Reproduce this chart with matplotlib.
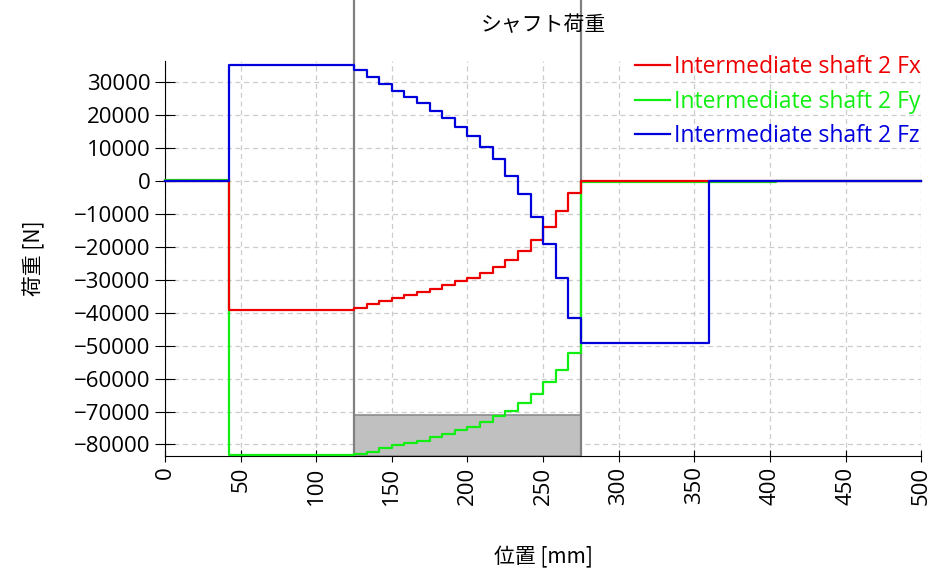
import matplotlib
matplotlib.use("Agg")
import matplotlib.pyplot as plt

plt.rcParams['font.family'] = ['Open Sans', 'Noto Sans CJK JP', 'DejaVu Sans']

# step positions along the shaft [mm]
steps = [125, 133.3, 141.7, 150, 158.3, 166.7, 175, 183.3, 191.7,
         200, 208.3, 216.7, 225, 233.3, 241.7, 250, 258.3, 266.7]

pos_fx = [0, 42] + steps + [275, 500]
fx = [0, -39300,
      -38700, -37500, -36500, -35500, -34700, -33700, -32700, -31700, -30500,
      -29500, -27900, -26100, -24000, -21300, -17900, -14200, -9300, -3700,
      0, 0]

pos_fy = [0, 42] + steps + [275, 404, 500]
fy = [250, -83300,
      -83000, -82300, -81000, -80300, -79500, -78800, -77800, -76700, -75700,
      -74700, -73200, -71500, -69700, -67500, -64700, -61200, -57400, -52400,
      -350, 0, 0]

pos_fz = [0, 42] + steps + [275, 360, 500]
fz = [0, 35000,
      33500, 31500, 29400, 27200, 25400, 23400, 21200, 18900, 16300,
      13600, 10300, 6500, 1500, -4050, -11000, -19100, -29600, -41500,
      -49200, 0, 0]

labels = ["Intermediate shaft 2 Fx", "Intermediate shaft 2 Fy", "Intermediate shaft 2 Fz"]
colors = ["#ee0000", "#11ee11", "#0000dd"]

# highlighted section of the shaft
sec_start, sec_end = 125, 275
sec_top = -71000

fig = plt.figure(figsize=(9.38, 5.78), dpi=100)
ax = fig.add_axes([0.176, 0.211, 0.806, 0.683])

ymin, ymax = -83500, 36200

ax.fill_between([sec_start, sec_end], ymin, sec_top, color="#c0c0c0",
                edgecolor="#8c8c8c", linewidth=1.2, zorder=1)
for xv in (sec_start, sec_end):
    ax.axvline(xv, ymin=0, ymax=1.155, color="#808080", lw=1.6,
               clip_on=False, zorder=2)

lw = 1.6
l_fy, = ax.plot(pos_fy, fy, drawstyle="steps-post", color=colors[1], lw=lw, zorder=3, clip_on=False)
l_fx, = ax.plot(pos_fx, fx, drawstyle="steps-post", color=colors[0], lw=lw, zorder=4, clip_on=False)
l_fz, = ax.plot(pos_fz, fz, drawstyle="steps-post", color=colors[2], lw=lw, zorder=5, clip_on=False)

ax.set_xlim(0, 500)
ax.set_ylim(ymin, ymax)
ax.set_xticks(range(0, 501, 50))
ax.set_yticks(range(-80000, 30001, 10000))
ax.tick_params(axis="x", labelrotation=90, labelsize=16, direction="inout", length=8)
ax.tick_params(axis="y", labelsize=16, direction="inout", length=14)
ax.grid(True, color="#cccccc", linestyle=(0, (4, 3)), lw=0.9)
ax.set_axisbelow(True)
for s in ("top", "right"):
    ax.spines[s].set_visible(False)

cjk = ['Noto Sans CJK JP', 'DejaVu Sans']
ax.set_title("シャフト荷重", family=cjk, fontsize=15, y=1.055)
ax.set_xlabel("位置 [mm]", family=cjk, fontsize=15)
ax.set_ylabel("荷重 [N]", family=cjk, fontsize=15)
ax.xaxis.set_label_coords(0.5, -0.228)
ax.yaxis.set_label_coords(-0.158, 0.5)

leg = ax.legend([l_fx, l_fy, l_fz], labels, loc="upper right",
                bbox_to_anchor=(1.0, 1.015), frameon=False, fontsize=16.5,
                handlelength=1.5, handletextpad=0.2, labelspacing=0.45,
                borderpad=0, borderaxespad=0, labelcolor="linecolor")

fig.savefig("out.png", dpi=100)
